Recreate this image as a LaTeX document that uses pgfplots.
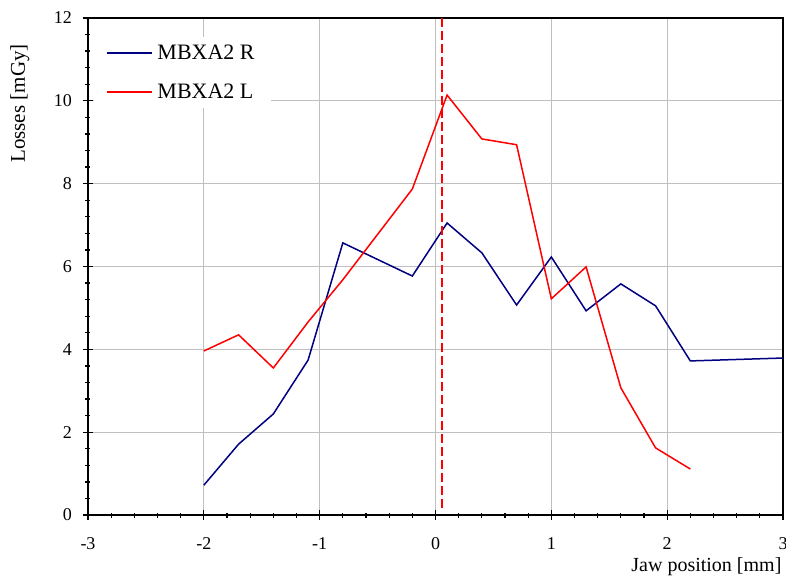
\documentclass[border=0pt]{standalone}
\usepackage{pgfplots}
\pgfplotsset{compat=1.18}
\usepackage{fontspec}
\setmainfont{Liberation Serif}
\definecolor{navyR}{HTML}{000080}
\definecolor{gridgray}{HTML}{C0C0C0}
\begin{document}
\begin{tikzpicture}[x=1pt,y=1pt]
\begin{axis}[
  at={(0,0)}, anchor=south west,
  scale only axis, width=695pt, height=497pt,
  xmin=-3, xmax=3, ymin=0, ymax=12,
  xtick={-3,-2,-1,0,1,2,3},
  ytick={0,2,4,6,8,10,12},
  minor x tick num=4, minor y tick num=4,
  grid=major,
  major grid style={draw=gridgray, line width=1.3pt},
  axis line style={line width=1.6pt},
  tick pos=left,
  tick align=center,
  major tick length=10pt, minor tick length=5pt,
  every tick/.style={black, line width=1.3pt},
  /pgf/number format/assume math mode=true,
  ticklabel style={font=\fontsize{18}{21}\selectfont, inner sep=2pt},
  xticklabel style={yshift=-15pt},
  yticklabel style={xshift=-9pt},
  label style={inner sep=0pt},
  xlabel={Jaw position [mm]},
  xlabel style={font=\fontsize{20}{23}\selectfont, at={(axis description cs:0.998,-0.105)}, anchor=east},
  ylabel={Losses [mGy]},
  ylabel style={font=\fontsize{21}{24}\selectfont, at={(axis description cs:-0.098,0.828)}, anchor=center},
  legend cell align=left,
  legend style={at={(axis description cs:0.009,0.962)}, anchor=north west,
    draw=none, fill=white, font=\fontsize{22}{26}\selectfont,
    inner xsep=12pt, inner ysep=6pt, row sep=19pt,
    nodes={inner xsep=4.5pt}},
  legend image code/.code={\draw[#1] (0pt,0pt) -- (45pt,0pt);},
]
\addplot[draw=navyR, line width=1.5pt] coordinates {
(-2.0,0.72) (-1.7,1.71) (-1.4,2.44) (-1.1,3.74) (-0.8,6.57) (-0.2,5.77)
(0.1,7.05) (0.4,6.33) (0.7,5.07) (1.0,6.23) (1.3,4.93) (1.6,5.58)
(1.9,5.05) (2.2,3.72) (3.0,3.79)};
\addlegendentry{MBXA2 R}
\addplot[draw=red, line width=1.5pt] coordinates {
(-2.0,3.96) (-1.7,4.35) (-1.4,3.55) (-1.1,4.66) (-0.8,5.68) (-0.2,7.87)
(0.1,10.14) (0.4,9.08) (0.7,8.94) (1.0,5.22) (1.3,5.99) (1.6,3.07)
(1.9,1.62) (2.2,1.11)};
\addlegendentry{MBXA2 L}
\addplot[draw=red, line width=1.8pt, dash pattern=on 9pt off 4pt, forget plot] coordinates {(0.054,0.17) (0.054,12)};
\end{axis}
\pgfresetboundingbox
\useasboundingbox (-88,-63) rectangle (698,515);
\end{tikzpicture}
\end{document}
